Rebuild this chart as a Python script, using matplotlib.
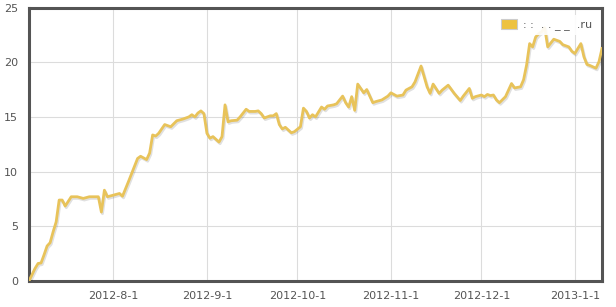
import matplotlib
matplotlib.use("Agg")
import matplotlib.pyplot as plt
import matplotlib.patheffects as pe
from matplotlib.patches import Patch
import pandas as pd

# daily-ish readings
dates = [
    "2012-07-04", "2012-07-06", "2012-07-07", "2012-07-08", "2012-07-09", "2012-07-10",
    "2012-07-11", "2012-07-12", "2012-07-13", "2012-07-14", "2012-07-15", "2012-07-16",
    "2012-07-18", "2012-07-20", "2012-07-22", "2012-07-24", "2012-07-27", "2012-07-28",
    "2012-07-29", "2012-07-30", "2012-08-01", "2012-08-03", "2012-08-04", "2012-08-06",
    "2012-08-09", "2012-08-10", "2012-08-12", "2012-08-13", "2012-08-14", "2012-08-15",
    "2012-08-16", "2012-08-18", "2012-08-19", "2012-08-20", "2012-08-22", "2012-08-24",
    "2012-08-26", "2012-08-27", "2012-08-28", "2012-08-29", "2012-08-30", "2012-08-31",
    "2012-09-01", "2012-09-02", "2012-09-03", "2012-09-05", "2012-09-06", "2012-09-07",
    "2012-09-08", "2012-09-09", "2012-09-11", "2012-09-12", "2012-09-14", "2012-09-15",
    "2012-09-17", "2012-09-18", "2012-09-19", "2012-09-20", "2012-09-22", "2012-09-23",
    "2012-09-24", "2012-09-25", "2012-09-26", "2012-09-27", "2012-09-29", "2012-09-30",
    "2012-10-02", "2012-10-03", "2012-10-04", "2012-10-05", "2012-10-06", "2012-10-07",
    "2012-10-09", "2012-10-10", "2012-10-11", "2012-10-13", "2012-10-14", "2012-10-16",
    "2012-10-17", "2012-10-18", "2012-10-19", "2012-10-20", "2012-10-21", "2012-10-23",
    "2012-10-24", "2012-10-26", "2012-10-27", "2012-10-29", "2012-10-31", "2012-11-01",
    "2012-11-03", "2012-11-05", "2012-11-06", "2012-11-08", "2012-11-09", "2012-11-11",
    "2012-11-12", "2012-11-13", "2012-11-14", "2012-11-15", "2012-11-17", "2012-11-18",
    "2012-11-20", "2012-11-22", "2012-11-24", "2012-11-25", "2012-11-27", "2012-11-28",
    "2012-11-29", "2012-12-01", "2012-12-02", "2012-12-03", "2012-12-04", "2012-12-05",
    "2012-12-06", "2012-12-07", "2012-12-09", "2012-12-11", "2012-12-12", "2012-12-14",
    "2012-12-15", "2012-12-16", "2012-12-17", "2012-12-18", "2012-12-19", "2012-12-20",
    "2012-12-21", "2012-12-22", "2012-12-23", "2012-12-25", "2012-12-26", "2012-12-27",
    "2012-12-28", "2012-12-30", "2012-12-31", "2013-01-01", "2013-01-03", "2013-01-04",
    "2013-01-05", "2013-01-06", "2013-01-08", "2013-01-09", "2013-01-10",
]
values = [
    0.0, 1.15, 1.6, 1.65, 2.4, 3.2,
    3.5, 4.5, 5.4, 7.4, 7.4, 6.85,
    7.7, 7.7, 7.55, 7.7, 7.7, 6.3,
    8.3, 7.7, 7.85, 8.0, 7.75, 9.1,
    11.2, 11.4, 11.1, 11.7, 13.35, 13.25,
    13.5, 14.3, 14.2, 14.1, 14.65, 14.8,
    15.0, 15.2, 15.0, 15.35, 15.55, 15.3,
    13.5, 13.05, 13.2, 12.7, 13.2, 16.1,
    14.55, 14.65, 14.7, 15.0, 15.7, 15.5,
    15.5, 15.55, 15.3, 14.9, 15.1, 15.1,
    15.3, 14.3, 13.9, 14.05, 13.55, 13.65,
    14.1, 15.8, 15.5, 14.9, 15.2, 15.0,
    15.9, 15.7, 16.0, 16.1, 16.2, 16.9,
    16.3, 15.9, 16.85, 15.6, 18.0, 17.2,
    17.5, 16.3, 16.4, 16.55, 16.9, 17.2,
    16.9, 17.0, 17.45, 17.75, 18.2, 19.65,
    18.7, 17.75, 17.15, 18.0, 17.15, 17.45,
    17.9, 17.15, 16.5, 16.9, 17.6, 16.7,
    16.85, 17.0, 16.85, 17.05, 16.95, 17.0,
    16.55, 16.3, 16.85, 18.05, 17.65, 17.75,
    18.4, 19.75, 21.7, 21.4, 22.3, 22.6,
    22.8, 23.15, 21.4, 22.1, 22.0, 21.9,
    21.6, 21.4, 21.0, 20.8, 21.7, 20.5,
    19.8, 19.7, 19.45, 20.05, 21.25,
]
series_label = ": :  . . _ _  .ru"
month_ticks = ["2012-08-01", "2012-09-01", "2012-10-01", "2012-11-01", "2012-12-01", "2013-01-01"]
month_labels = ["2012-8-1", "2012-9-1", "2012-10-1", "2012-11-1", "2012-12-1", "2013-1-1"]
y_ticks = [0, 5, 10, 15, 20, 25]

x = pd.to_datetime(dates)
line_col = "#e8c35a"
txt_col = "#545454"

fig = plt.figure(figsize=(6.16, 3.07), dpi=100)
ax = fig.add_axes([29 / 616, 26 / 307, 573 / 616, 273.5 / 307])

ax.plot(x, values, color=line_col, lw=2.0, solid_joinstyle="round",
        path_effects=[pe.SimpleLineShadow(offset=(0.8, -1.2), shadow_color="k", alpha=0.12),
                      pe.Normal()], zorder=3)

ax.set_xlim(x[0], x[-1])
ax.set_ylim(0, 25)
ax.set_yticks(y_ticks)
ax.set_xticks(pd.to_datetime(month_ticks))
ax.set_xticklabels(month_labels)
ax.grid(True, color="#dcdcdc", lw=0.8)
ax.set_axisbelow(True)
ax.tick_params(length=0, labelsize=8, colors=txt_col)
ax.tick_params(axis="x", pad=7)
ax.tick_params(axis="y", pad=8)
for s in ax.spines.values():
    s.set_color(txt_col)
    s.set_linewidth(2.2)

# legend box: white, no border, coloured square with grey edge
leg = ax.legend(handles=[Patch(facecolor="#edc240", edgecolor="#cccccc", lw=0.8, label=series_label)],
                loc="upper right", bbox_to_anchor=(0.994, 0.98), fontsize=8, frameon=True,
                handlelength=1.45, handleheight=1.0, handletextpad=0.6, borderpad=0.35,
                fancybox=False, borderaxespad=0.2)
leg.get_frame().set_edgecolor("none")
leg.get_frame().set_facecolor("white")
leg.get_frame().set_alpha(0.9)
for t in leg.get_texts():
    t.set_color(txt_col)

fig.savefig("out.png", dpi=100)
